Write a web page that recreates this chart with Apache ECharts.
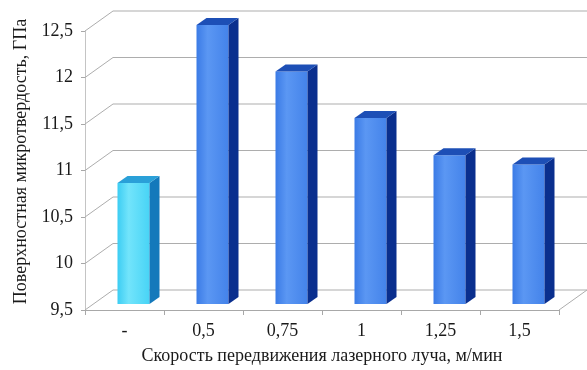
<!DOCTYPE html>
<html>
<head>
<meta charset="utf-8">
<script src="https://cdn.jsdelivr.net/npm/echarts@6/dist/echarts.min.js"></script>
<style>
  html, body { margin: 0; padding: 0; background: #fff; }
  #chart { width: 587px; height: 370px; }
</style>
</head>
<body>
<div id="chart"></div>
<script>
// Surface microhardness vs. laser beam travel speed
const categories = ['-', '0,5', '0,75', '1', '1,25', '1,5'];
const hardness = [10.8, 12.5, 12.0, 11.5, 11.1, 11.0];
const yTicks = [9.5, 10, 10.5, 11, 11.5, 12, 12.5];
const xTitle = 'Скорость передвижения лазерного луча, м/мин';
const yTitle = 'Поверхностная микротвердость, ГПа';

const Y_MIN = yTicks[0];
const Y_MAX = yTicks[yTicks.length - 1];
const Y_STEP = yTicks[1] - yTicks[0];

// pseudo-3D geometry (pixels)
const WALL = { dx: 28, dy: -20 };    // front axis -> back wall
const BAR_LIFT = -6;                 // bars stand mid-depth on the floor
const FACE_L = -7, FACE_R = 25;      // front face relative to category centre
const BAR_DEPTH = { dx: 10, dy: -7 };

const PALETTE = {
  control: { front: ['#3ccdf3', '#72e4fb', '#48d4f6'], side: '#1479bb', top: '#2aa0d8' },
  treated: { front: ['#3b7be6', '#5b97f3', '#4483ea'], side: '#0a2f8e', top: '#1d4fb6' }
};

const fmt = v => String(v).replace('.', ',');
const FONT = "'Liberation Serif', 'DejaVu Serif', serif";

const chart = echarts.init(document.getElementById('chart'), null, { renderer: 'canvas' });

function wallItem(params, api) {
  const cs = params.coordSys;
  const v = api.value(0);
  const p = api.coord([0, v]);
  const xL = cs.x, xR = cs.x + cs.width, y = p[1];
  const style = { stroke: '#adadad', lineWidth: 1, fill: null };
  const children = [{
    type: 'polyline',
    shape: { points: [[xL, y], [xL + WALL.dx, y + WALL.dy], [xR + WALL.dx, y + WALL.dy]] },
    style
  }];
  if (v === Y_MIN) {
    children.push({
      type: 'line',
      shape: { x1: xR, y1: y, x2: xR + WALL.dx, y2: y + WALL.dy },
      style
    });
  }
  return { type: 'group', children };
}

function barItem(params, api) {
  const i = api.value(0);
  const v = api.value(1);
  const top = api.coord([i, v]);
  const base = api.coord([i, Y_MIN]);
  const x0 = top[0] + FACE_L, x1 = top[0] + FACE_R;
  const yT = top[1] + BAR_LIFT, yB = base[1] + BAR_LIFT;
  const c = i === 0 ? PALETTE.control : PALETTE.treated;
  const ddx = BAR_DEPTH.dx, ddy = BAR_DEPTH.dy;
  return {
    type: 'group',
    children: [
      {
        type: 'rect',
        shape: { x: x0, y: yT, width: x1 - x0, height: yB - yT },
        style: {
          fill: new echarts.graphic.LinearGradient(0, 0, 1, 0, [
            { offset: 0, color: c.front[0] },
            { offset: 0.35, color: c.front[1] },
            { offset: 1, color: c.front[2] }
          ])
        }
      },
      {
        type: 'polygon',
        shape: { points: [[x1, yT], [x1 + ddx, yT + ddy], [x1 + ddx, yB + ddy], [x1, yB]] },
        style: { fill: c.side }
      },
      {
        type: 'polygon',
        shape: { points: [[x0, yT], [x1, yT], [x1 + ddx, yT + ddy], [x0 + ddx, yT + ddy]] },
        style: { fill: c.top }
      }
    ]
  };
}

chart.setOption({
  animation: false,
  backgroundColor: '#ffffff',
  grid: { left: 85, right: 28, top: 31, bottom: 60 },
  xAxis: {
    type: 'category',
    data: categories,
    boundaryGap: true,
    axisLine: { lineStyle: { color: '#a8a8a8', width: 1 } },
    axisTick: { show: true, length: 5, lineStyle: { color: '#a8a8a8' } },
    axisLabel: { color: '#1a1a1a', fontFamily: FONT, fontSize: 18, margin: 12 },
    name: xTitle,
    nameLocation: 'middle',
    nameGap: 37,
    nameTextStyle: { color: '#1a1a1a', fontFamily: FONT, fontSize: 18 }
  },
  yAxis: {
    type: 'value',
    min: Y_MIN,
    max: Y_MAX,
    interval: Y_STEP,
    splitLine: { show: false },
    axisLine: { show: true, lineStyle: { color: '#c4c4c4', width: 1 } },
    axisTick: { show: true, length: 4, lineStyle: { color: '#a8a8a8' } },
    axisLabel: { color: '#1a1a1a', fontFamily: FONT, fontSize: 18, margin: 12, formatter: fmt },
    name: yTitle,
    nameLocation: 'middle',
    nameGap: 53,
    nameTextStyle: { color: '#1a1a1a', fontFamily: FONT, fontSize: 18, padding: [0, 0, 0, 18] }
  },
  series: [
    {
      type: 'custom',
      name: 'wall',
      z: 1,
      silent: true,
      data: yTicks.map(v => [v]),
      encode: { y: 0 },
      renderItem: wallItem
    },
    {
      type: 'custom',
      name: 'hardness',
      z: 3,
      data: hardness.map((v, i) => [i, v]),
      encode: { x: 0, y: 1 },
      renderItem: barItem
    }
  ]
});
</script>
</body>
</html>
